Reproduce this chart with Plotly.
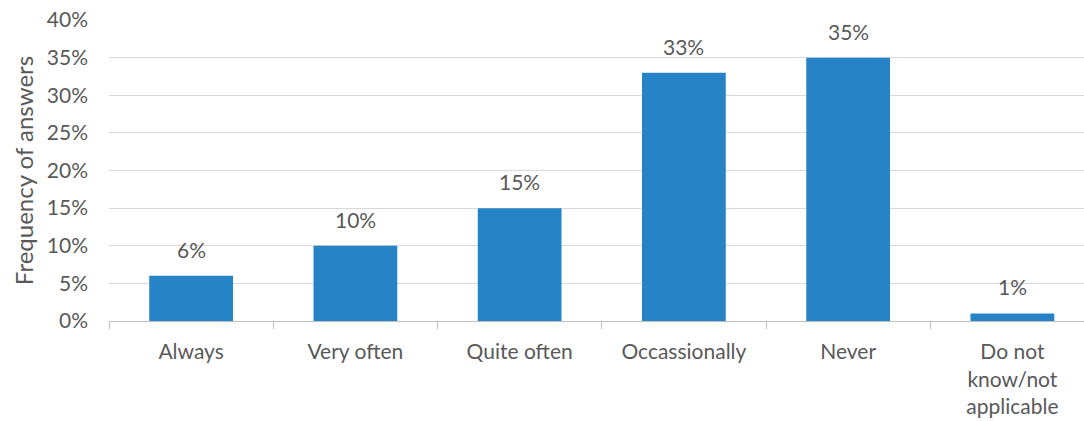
import plotly.graph_objects as go

categories = ["Always", "Very often", "Quite often", "Occassionally", "Never", "Do not<br>know/not<br>applicable"]
values = [6, 10, 15, 33, 35, 1]
y_ticks = [0, 5, 10, 15, 20, 25, 30, 35, 40]
y_tick_labels = [f"{v}%" for v in y_ticks]

font_family = "Lato, Open Sans, sans-serif"
text_color = "#595959"

fig = go.Figure()
fig.add_trace(go.Bar(
    x=categories, y=values,
    marker=dict(color="#2683C6", line=dict(width=0)),
    width=0.51,
    hoverinfo="skip",
))

for c, v in zip(categories, values):
    fig.add_annotation(x=c, y=v, text=f"{v}%", showarrow=False, yanchor="bottom",
                       yshift=12, font=dict(family=font_family, size=21, color=text_color))

fig.update_layout(
    width=1084, height=421,
    margin=dict(l=109, r=0, t=20, b=100),
    plot_bgcolor="white", paper_bgcolor="white",
    showlegend=False,
    font=dict(family=font_family, size=21, color=text_color),
    bargap=0.49,
)
fig.update_xaxes(
    type="category",
    range=[-0.5, 5.436],
    showline=True, linecolor="#BFBFBF", linewidth=1,
    ticks="outside", tickson="boundaries", ticklen=7, tickcolor="#BFBFBF",
    tickfont=dict(family=font_family, size=21, color=text_color),
    ticklabelstandoff=12,
    showgrid=False,
)
fig.update_yaxes(
    range=[0, 40], tickvals=y_ticks, ticktext=y_tick_labels,
    showgrid=True, gridcolor="#D9D9D9", gridwidth=1,
    zeroline=False, showline=False, ticks="",
    tickfont=dict(family=font_family, size=21, color=text_color),
    ticklabelstandoff=20,
    title=dict(text="Frequency of answers", font=dict(family=font_family, size=24, color=text_color), standoff=6),
)

fig.write_html("out.html")
